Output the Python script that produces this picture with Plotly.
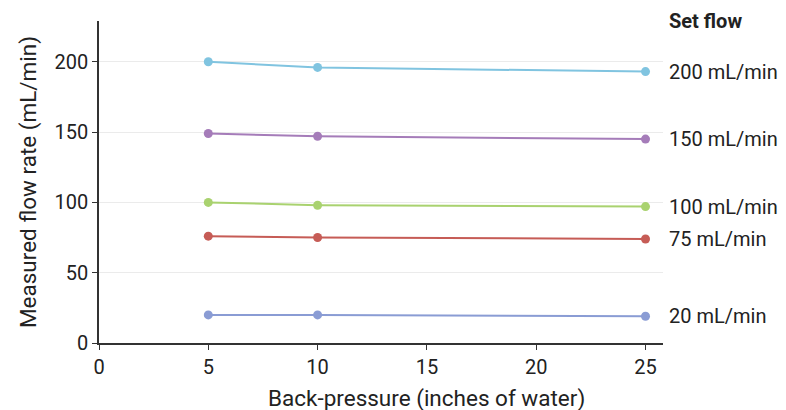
import plotly.graph_objects as go

pressure = [5, 10, 25]
series_names = ["200 mL/min", "150 mL/min", "100 mL/min", "75 mL/min", "20 mL/min"]
flow_200 = [200, 196, 193]
flow_150 = [149, 147, 145]
flow_100 = [100, 98, 97]
flow_75 = [76, 75, 74]
flow_20 = [20, 20, 19]
colors = ["#80c4e0", "#a57cb9", "#a9d26f", "#c65c56", "#8a9cd4"]

all_series = [flow_200, flow_150, flow_100, flow_75, flow_20]
FONT = "Roboto"

fig = go.Figure()
for name, vals, col in zip(series_names, all_series, colors):
    fig.add_trace(go.Scatter(
        x=pressure, y=vals, mode="lines+markers", name=name,
        line=dict(color=col, width=2),
        marker=dict(color=col, size=9),
        showlegend=False,
        cliponaxis=False,
    ))
    fig.add_annotation(
        x=1, xref="paper", xanchor="left", xshift=4,
        y=vals[-1], yref="y", yanchor="middle",
        text=name, showarrow=False,
        font=dict(family=FONT, size=20, color="#222222"),
    )

fig.add_annotation(
    x=1, xref="paper", xanchor="left", xshift=4,
    y=1, yref="paper", yanchor="middle",
    text="<b>Set flow</b>", showarrow=False,
    font=dict(family=FONT, size=20, color="#222222"),
)

fig.add_annotation(
    x=0.58, xref="paper", xanchor="center",
    y=0, yref="paper", yanchor="top", yshift=-40,
    text="Back-pressure (inches of water)", showarrow=False,
    font=dict(family=FONT, size=22.5, color="#222222"),
)

fig.update_layout(
    width=778, height=402,
    margin=dict(l=91, r=123, t=13, b=67),
    plot_bgcolor="white", paper_bgcolor="white",
    font=dict(family=FONT, size=20, color="#222222"),
    xaxis=dict(
        range=[0, 25.8], tickvals=[0, 5, 10, 15, 20, 25],
        showgrid=False, zeroline=False,
        showline=True, linecolor="#333333", linewidth=1.5,
        ticks="outside", ticklen=5, tickcolor="#333333",
        tickfont=dict(size=20),
    ),
    yaxis=dict(
        range=[0, 229], tickvals=[0, 50, 100, 150, 200],
        showgrid=True, gridcolor="#ebebeb", gridwidth=1,
        zeroline=False,
        showline=True, linecolor="#333333", linewidth=1.5,
        ticks="outside", ticklen=5, tickcolor="#333333",
        title=dict(text="Measured flow rate (mL/min)", font=dict(size=22.5), standoff=12),
        tickfont=dict(size=20),
    ),
)

fig.write_html("out.html")
